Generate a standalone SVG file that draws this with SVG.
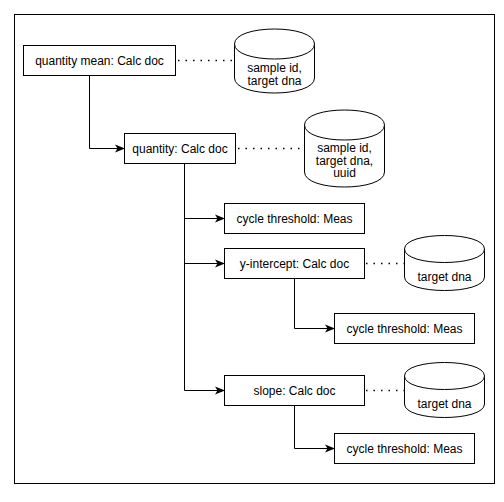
<svg xmlns="http://www.w3.org/2000/svg" width="504" height="502" viewBox="0 0 504 502">
  <defs>
    <marker id="arrow" viewBox="0 0 10 10" refX="9" refY="5" markerWidth="10" markerHeight="10" markerUnits="userSpaceOnUse" orient="auto">
      <path d="M0,1 L10,5 L0,9 L2.5,5 Z" fill="#000"/>
    </marker>
  </defs>
  <style>
    .frame { fill: #fff; stroke: #000; stroke-width: 1; }
    .box { fill: #fff; stroke: #000; stroke-width: 1; }
    .db { fill: #fff; stroke: #000; stroke-width: 1; }
    .lbl { font-family: "Liberation Sans", Arial, Helvetica, sans-serif; font-size: 12px; fill: #000; text-anchor: middle; }
    .flow { fill: none; stroke: #000; stroke-width: 1; }
    .flow-arrow { fill: none; stroke: #000; stroke-width: 1; marker-end: url(#arrow); }
    .link { fill: none; stroke: #000; stroke-width: 1.5; stroke-dasharray: 1.5 6; }
  </style>

  <rect width="504" height="502" fill="#fff"/>
  <rect class="frame" x="14.5" y="14.5" width="480" height="469"/>

  <!-- connectors -->
  <g id="connectors">
    <path class="flow-arrow" d="M89.5,76 V148.5 H124"/>
    <path class="flow" d="M184.5,163 V390.5"/>
    <path class="flow-arrow" d="M184.5,218.5 H224"/>
    <path class="flow-arrow" d="M184.5,263.5 H224"/>
    <path class="flow-arrow" d="M184.5,390.5 H224"/>
    <path class="flow-arrow" d="M294.5,278 V328.5 H334"/>
    <path class="flow-arrow" d="M294.5,405 V448.5 H334"/>
    <path class="link" d="M178,60.5 H234"/>
    <path class="link" d="M238,148.5 H304"/>
    <path class="link" d="M366,263.5 H404"/>
    <path class="link" d="M366,390.5 H404"/>
  </g>

  <!-- process nodes -->
  <g id="quantity-mean">
    <rect class="box" x="23.5" y="45.5" width="152" height="30"/>
    <text class="lbl" x="99.5" y="64.5">quantity mean: Calc doc</text>
  </g>
  <g id="quantity">
    <rect class="box" x="124.5" y="133.5" width="111" height="30"/>
    <text class="lbl" x="180" y="152.5">quantity: Calc doc</text>
  </g>
  <g id="cycle-threshold-1">
    <rect class="box" x="224.5" y="203.5" width="140" height="30"/>
    <text class="lbl" x="294.5" y="222.5">cycle threshold: Meas</text>
  </g>
  <g id="y-intercept">
    <rect class="box" x="224.5" y="248.5" width="140" height="30"/>
    <text class="lbl" x="294.5" y="267.5">y-intercept: Calc doc</text>
  </g>
  <g id="cycle-threshold-2">
    <rect class="box" x="334.5" y="313.5" width="140" height="30"/>
    <text class="lbl" x="404.5" y="332.5">cycle threshold: Meas</text>
  </g>
  <g id="slope">
    <rect class="box" x="224.5" y="375.5" width="140" height="30"/>
    <text class="lbl" x="294.5" y="394.5">slope: Calc doc</text>
  </g>
  <g id="cycle-threshold-3">
    <rect class="box" x="334.5" y="433.5" width="140" height="30"/>
    <text class="lbl" x="404.5" y="452.5">cycle threshold: Meas</text>
  </g>

  <!-- data stores -->
  <g id="store-1">
    <path class="db" d="M234.5,44 C234.5,24 314.5,24 314.5,44 V78 C314.5,98 234.5,98 234.5,78 Z"/>
    <path class="db" fill="none" d="M234.5,44 C234.5,64 314.5,64 314.5,44"/>
    <text class="lbl" x="274.5" y="72">sample id,</text>
    <text class="lbl" x="274.5" y="84.5">target dna</text>
  </g>
  <g id="store-2">
    <path class="db" d="M304.5,125 C304.5,105 384.5,105 384.5,125 V172 C384.5,192 304.5,192 304.5,172 Z"/>
    <path class="db" fill="none" d="M304.5,125 C304.5,145 384.5,145 384.5,125"/>
    <text class="lbl" x="344.5" y="152">sample id,</text>
    <text class="lbl" x="344.5" y="164.5">target dna,</text>
    <text class="lbl" x="344.5" y="177">uuid</text>
  </g>
  <g id="store-3">
    <path class="db" d="M404.5,249 C404.5,231 484.5,231 484.5,249 V277 C484.5,295 404.5,295 404.5,277 Z"/>
    <path class="db" fill="none" d="M404.5,249 C404.5,267 484.5,267 484.5,249"/>
    <text class="lbl" x="444.5" y="281">target dna</text>
  </g>
  <g id="store-4">
    <path class="db" d="M404.5,376 C404.5,358 484.5,358 484.5,376 V404 C484.5,422 404.5,422 404.5,404 Z"/>
    <path class="db" fill="none" d="M404.5,376 C404.5,394 484.5,394 484.5,376"/>
    <text class="lbl" x="444.5" y="408">target dna</text>
  </g>
</svg>
